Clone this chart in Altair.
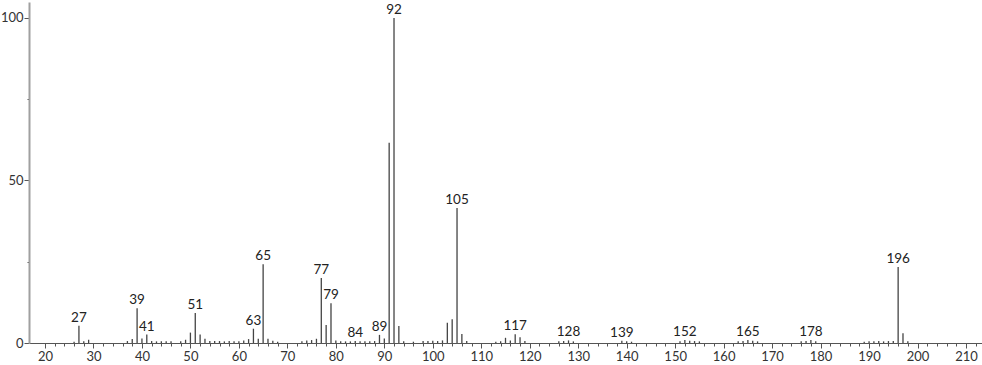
import altair as alt
import pandas as pd

mz = [26, 27, 28, 29, 37, 38, 39, 40, 41, 42, 43, 44, 45, 46, 48, 49, 50, 51, 52, 53,
      54, 55, 56, 57, 58, 59, 60, 61, 62, 63, 64, 65, 66, 67, 68, 73, 74, 75, 76, 77,
      78, 79, 80, 81, 82, 83, 84, 85, 86, 87, 88, 89, 90, 91, 92, 93, 94, 96, 98, 99,
      100, 101, 102, 103, 104, 105, 106, 107, 113, 114, 115, 116, 117, 118, 119, 126, 127, 128, 129,
      139, 140, 141, 151, 152, 153, 154, 155, 163, 164, 165, 166, 167, 176, 177, 178, 179,
      189, 190, 191, 192, 193, 194, 195, 196, 197, 198]
intensity = [0.4, 5.3, 0.5, 1.0, 0.6, 1.2, 10.7, 1.4, 2.6, 0.6, 0.5, 0.5, 0.5, 0.5, 0.5, 1.0, 3.2, 9.2, 2.6, 1.3,
             0.6, 0.6, 0.6, 0.5, 0.6, 0.5, 0.5, 0.8, 1.2, 4.4, 1.3, 24.2, 1.3, 0.7, 0.4, 0.5, 0.8, 0.9, 1.3, 20.0,
             5.5, 12.2, 0.8, 0.5, 0.5, 0.5, 0.6, 0.5, 0.5, 0.5, 0.6, 2.5, 1.4, 61.6, 100.0, 5.2, 0.5, 0.4, 0.6, 0.6,
             0.7, 0.6, 0.8, 6.2, 7.3, 41.5, 2.8, 0.6, 0.4, 0.5, 1.6, 0.8, 2.7, 1.8, 0.6, 0.5, 0.6, 0.8, 0.5,
             0.7, 0.5, 0.4, 0.5, 0.9, 0.7, 0.6, 0.5, 0.5, 0.6, 0.9, 0.7, 0.5, 0.5, 0.6, 0.9, 0.5,
             0.4, 0.5, 0.5, 0.6, 0.5, 0.6, 0.6, 23.4, 3.0, 0.5]
labeled = [27, 39, 41, 51, 63, 65, 77, 79, 84, 89, 92, 105, 117, 128, 139, 152, 165, 178, 196]

df = pd.DataFrame({"mz": mz, "intensity": intensity})
df["label"] = [str(m) if m in labeled else "" for m in mz]

font = "Lato"
xscale = alt.Scale(domain=[16.7, 213.3], nice=False, zero=False)
yscale = alt.Scale(domain=[0, 104.9], nice=False)

x_ticks = list(range(20, 213, 2))
y_ticks = [0, 25, 50, 75, 100]

xaxis = alt.Axis(
    values=x_ticks, title=None, grid=False,
    labelExpr="datum.value % 10 === 0 ? datum.label : ''",
    tickSize={"condition": {"test": "datum.value % 10 === 0", "value": 5}, "value": 3},
    domainColor="#555555", tickColor="#555555", labelColor="#333333",
    labelFont=font, labelFontSize=13, labelPadding=2, labelFlush=False,
    labelOverlap=False, labelBound=False)
yaxis = alt.Axis(
    values=y_ticks, title=None, grid=False,
    labelExpr="datum.value % 50 === 0 ? datum.label : ''",
    tickSize={"condition": {"test": "datum.value % 50 === 0", "value": 5}, "value": 2},
    domainColor="#a0a0a0", domainWidth=2, tickColor="#555555", labelColor="#333333",
    labelFont=font, labelFontSize=13, labelPadding=1, labelFlush=False,
    labelOverlap=False)

bars = alt.Chart(df).mark_rule(color="#444444", strokeWidth=1.3).encode(
    x=alt.X("mz:Q", scale=xscale, axis=xaxis),
    y=alt.Y("intensity:Q", scale=yscale, axis=yaxis),
    y2=alt.datum(0),
)

texts = alt.Chart(df).transform_filter("datum.label != ''").mark_text(
    baseline="bottom", dy=-1, font=font, fontSize=13.5, color="#222222"
).encode(
    x=alt.X("mz:Q", scale=xscale, axis=xaxis),
    y=alt.Y("intensity:Q", scale=yscale, axis=yaxis),
    text="label:N",
)

chart = alt.layer(bars, texts).properties(
    width=953, height=341,
    padding={"left": 29, "top": 2, "right": 0, "bottom": 22},
    autosize=alt.AutoSizeParams(type="none"),
    background="white",
).configure_view(stroke=None)

chart.save("out.html", embed_options={"renderer": "svg", "actions": False})
